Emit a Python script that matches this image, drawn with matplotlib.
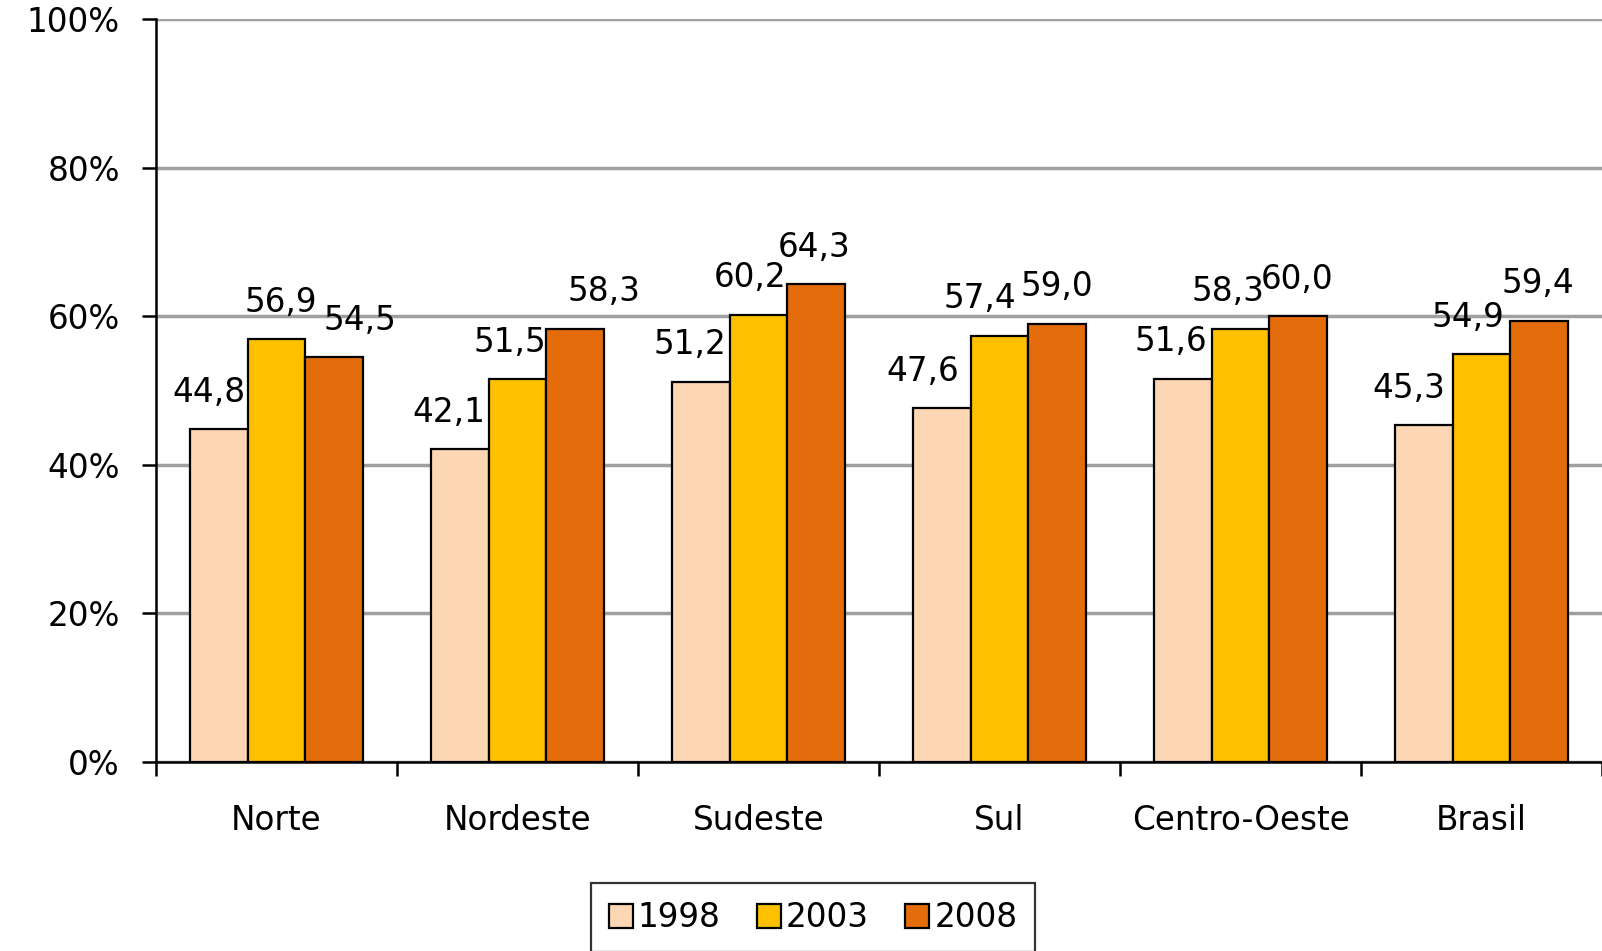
import matplotlib
matplotlib.use("Agg")
import matplotlib.pyplot as plt
import numpy as np
from matplotlib.ticker import FixedLocator, PercentFormatter

categories = ["Norte", "Nordeste", "Sudeste", "Sul", "Centro-Oeste", "Brasil"]
years = ["1998", "2003", "2008"]
v1998 = [44.8, 42.1, 51.2, 47.6, 51.6, 45.3]
v2003 = [56.9, 51.5, 60.2, 57.4, 58.3, 54.9]
v2008 = [54.5, 58.3, 64.3, 59.0, 60.0, 59.4]
yticks = [0, 20, 40, 60, 80, 100]

colors = ["#FDD6B4", "#FFC000", "#E46C0A"]
# horizontal label offsets (pixels) mimicking the reference's label placement
label_dx = [
    [-10, -11, -11, -19, -12, -15],
    [4, -7, -8, -19, -12, -13],
    [25, 28, -2, -1, -1, -1],
]

FS = 23.5
plt.rcParams['font.family'] = ['DejaVu Sans']
fig = plt.figure(figsize=(16.02, 9.51), dpi=100)
ax = fig.add_axes([156/1602, 1 - 762/951, 1 - 156/1602, (762 - 19)/951])

n = len(categories)
x = np.arange(n)
w = 0.24
series = [v1998, v2003, v2008]
for k, (vals, c) in enumerate(zip(series, colors)):
    pos = x + (k - 1) * w
    ax.bar(pos, vals, width=w, color=c, edgecolor="black", linewidth=1.6,
           label=years[k], zorder=3)
    for j, (px, v) in enumerate(zip(pos, vals)):
        ax.annotate(f"{v:.1f}".replace(".", ","), (px, v),
                    xytext=(label_dx[k][j] * 1.02, 37), textcoords="offset pixels",
                    ha="center", va="center", fontsize=FS, color="black", zorder=4)

ax.set_xlim(-0.5, n - 0.5)
ax.set_ylim(0, 100)
ax.yaxis.set_major_locator(FixedLocator(yticks))
ax.yaxis.set_major_formatter(PercentFormatter(decimals=0))
ax.grid(axis="y", color="#A0A0A0", linewidth=2.5, zorder=0)
ax.set_axisbelow(True)

ax.set_xticks(x)
ax.set_xticklabels(categories)
ax.set_xticks(np.arange(-0.5, n, 1.0), minor=True)
ax.tick_params(axis="x", which="major", length=0, pad=30, labelsize=FS)
ax.tick_params(axis="x", which="minor", length=10, width=1.8, direction="out")
ax.tick_params(axis="y", which="major", length=10, width=1.8, pad=16, labelsize=FS)

for s in ["top", "right"]:
    ax.spines[s].set_visible(False)
for s in ["left", "bottom"]:
    ax.spines[s].set_linewidth(1.8)
    ax.spines[s].set_zorder(5)

leg = fig.legend(loc="upper center", bbox_to_anchor=(813/1602, 1 - 883/951), ncol=3,
                 fontsize=FS, frameon=True, fancybox=False, edgecolor="black",
                 handlelength=0.75, handleheight=0.75, handletextpad=0.15,
                 columnspacing=1.1, borderpad=0.55, borderaxespad=0)
leg.get_frame().set_linewidth(1.6)

fig.savefig("out.png", dpi=100, facecolor="white")
